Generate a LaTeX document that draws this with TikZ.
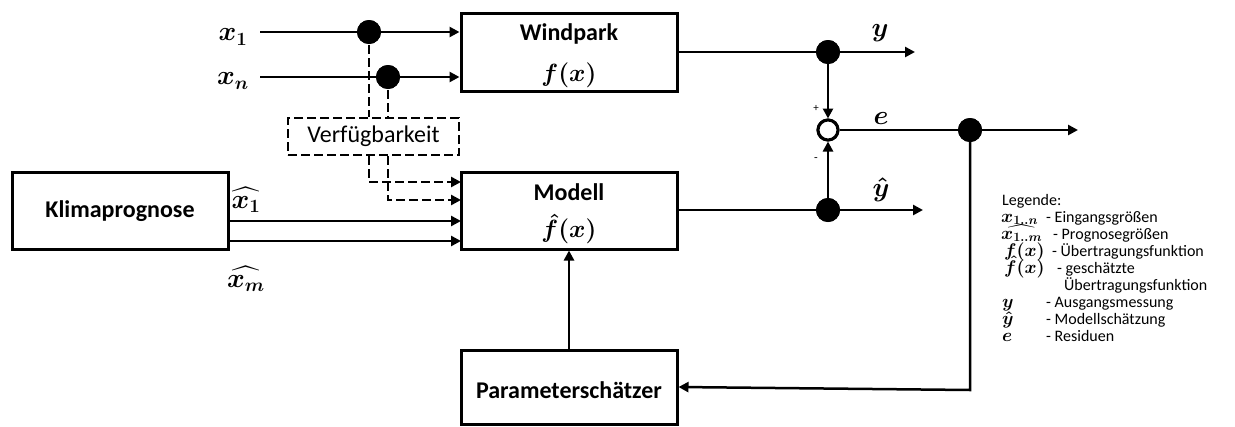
\RequirePackage{fix-cm}
\documentclass[tikz,border=0pt]{standalone}
\usepackage{amsmath}
\usepackage{bm}
\usepackage{graphicx}
\usepackage[no-math]{fontspec}
\setmainfont{Carlito}
\usetikzlibrary{arrows.meta}
\newcommand{\lblbig}[1]{\scalebox{1.3}{$#1$}}
\newcommand{\lblbox}[1]{\scalebox{1.2}{$#1$}}
\newcommand{\lblleg}[1]{\scalebox{1.06}{$#1$}}
\tikzset{
  blk/.style={draw, line width=3pt, fill=white, minimum width=216pt, inner sep=0pt},
  blktxt/.style={font=\fontsize{24}{28}\selectfont\bfseries, inner sep=0pt},
  bmath/.style={font=\fontsize{20.74}{24}\selectfont\boldmath, inner sep=0pt},
  mlab/.style={font=\fontsize{20.74}{24}\selectfont\boldmath, inner sep=0pt},
  conn/.style={line width=2.5pt, -{Triangle[length=10pt,width=10pt]}},
  plain/.style={line width=2.5pt},
  dsh/.style={line width=2.5pt, dash pattern=on 9pt off 4pt},
  dsharr/.style={dsh, -{Triangle[length=10pt,width=10pt]}},
  jdot/.style={circle, fill=black, inner sep=0pt, minimum size=24pt},
  legsym/.style={anchor=base west, inner sep=0pt, font=\fontsize{17.28}{18}\selectfont\boldmath},
  legtxt/.style={anchor=base west, inner sep=0pt, font=\fontsize{16}{17}\selectfont},
}
\begin{document}
\begin{tikzpicture}[x=1pt,y=-1pt]
\fill[white] (0,0) rectangle (1235,426);
\useasboundingbox (0,0) rectangle (1235,426);

% boxes
\node[blk, minimum height=78pt] (wp) at (569,52) {};
\node[blk, minimum height=77pt] (mod) at (569,210.5) {};
\node[blk, minimum height=77pt] (kp) at (120,210.5) {};
\node[blk, minimum height=74pt] (ps) at (569,387) {};

\node[blktxt] (wpt) at (569,34) {Windpark};
\node[bmath] (wpf) at (569,75) {\lblbox{f(x)}};
\node[blktxt] (modt) at (569,192) {Modell};
\node[bmath] (modf) at (569,229) {\lblbox{\hat{f}(x)}};
\node[blktxt] (kpt) at (120,211) {Klimaprognose};
\node[blktxt] (pst) at (569,390) {Parameterschätzer};

% coordinates
\coordinate (x1s) at (260,32);
\coordinate (xns) at (260,77);
\coordinate (yend) at (915,52);
\coordinate (yhend) at (923,210);
\coordinate (eend) at (1078,130);
\coordinate (fbk) at (970,390);
\coordinate (m1) at (461,182);
\coordinate (m2) at (461,200);
\coordinate (m3) at (461,221);
\coordinate (m4) at (461,241);

% junction dots (positions)
\node[jdot] (d1) at (369,32) {};
\node[jdot] (dn) at (388,77) {};
\node[jdot] (dy) at (828,52) {};
\node[jdot] (dyh) at (828,210) {};
\node[jdot] (de) at (970,130) {};
\node[circle, draw, line width=3pt, fill=white, inner sep=0pt, minimum size=20pt] (sum) at (828,130) {};

% Verfuegbarkeit box
\node[draw, dsh, fill=white, minimum width=171pt, minimum height=37pt, inner sep=0pt,
      font=\fontsize{24}{28}\selectfont] (vf) at (373.5,136.5) {Verfügbarkeit};

% input lines
\draw[conn] (x1s) -- (d1.center) -- (d1.center -| wp.west);
\draw[conn] (xns) -- (dn.center) -- (dn.center -| wp.west);

% dashed availability lines
\draw[dsh] (d1.center) -- (d1.center |- vf.north);
\draw[dsh] (dn.center) -- (dn.center |- vf.north);
\draw[dsharr] (d1.center |- vf.south) -- (d1.center |- m1) -- (m1);
\draw[dsharr] (dn.center |- vf.south) -- (dn.center |- m2) -- (m2);

% forecast lines
\draw[conn] (kp.east |- m3) -- (m3);
\draw[conn] (kp.east |- m4) -- (m4);

% outputs
\draw[plain] (wp.east |- dy) -- (dy.center);
\draw[conn] (dy.center) -- (yend);
\draw[conn] (dy.center) -- (sum.north);
\draw[plain] (mod.east |- dyh) -- (dyh.center);
\draw[conn] (dyh.center) -- (yhend);
\draw[conn] (dyh.center) -- (sum.south);
\draw[plain] (sum.east) -- (de.center);
\draw[conn] (de.center) -- (eend);
\draw[conn] (de.center) -- (fbk) -- (ps.east);
\draw[conn] (ps.north) -- (mod.south);

% redraw dots on top
\fill (d1) circle (12pt);
\fill (dn) circle (12pt);
\fill (dy) circle (12pt);
\fill (dyh) circle (12pt);
\fill (de) circle (12pt);
\draw[line width=3pt, fill=white] (sum) circle (10pt);

% labels
\node[mlab] (lx1) at (233,37) {\lblbig{x_1}};
\node[mlab] (lxn) at (233,81) {\lblbig{x_n}};
\node[mlab] (ly) at (880,33) {\lblbig{y}};
\node[mlab] (le) at (881,119) {\lblbig{e}};
\node[mlab] (lyh) at (881,190) {\lblbig{\hat{y}}};
\node[mlab] (lx1h) at (246,200) {\lblbig{\widehat{x_1}}};
\node[mlab] (lxmh) at (246,279) {\lblbig{\widehat{x_m}}};
\node[inner sep=0pt, font=\fontsize{11}{11}\selectfont] (plus) at (816,108) {+};
\node[inner sep=0pt, font=\fontsize{12}{12}\selectfont] (minus) at (816,160) {-};

% legend
\node[legtxt] (lg0) at (1002,205) {Legende:};
\node[legsym] (ls1) at (1001,222) {\lblleg{x_{1..n}}};
\node[legtxt] (lt1) at (1046,222) {- Eingangsgrößen};
\node[legsym] (ls2) at (1001,239) {\lblleg{\widehat{x_{1..m}}}};
\node[legtxt] (lt2) at (1053,239) {- Prognosegrößen};
\node[legsym] (ls3) at (1004,256) {\lblleg{f(x)}};
\node[legtxt] (lt3) at (1052,256) {- Übertragungsfunktion};
\node[legsym] (ls4) at (1004,273) {\lblleg{\hat{f}(x)}};
\node[legtxt] (lt4) at (1057,273) {- geschätzte};
\node[legtxt] (lt4b) at (1064,290) {Übertragungsfunktion};
\node[legsym] (ls5) at (1002,307) {\lblleg{y}};
\node[legtxt] (lt5) at (1046,307) {- Ausgangsmessung};
\node[legsym] (ls6) at (1002,324) {\lblleg{\hat{y}}};
\node[legtxt] (lt6) at (1046,324) {- Modellschätzung};
\node[legsym] (ls7) at (1002,341) {\lblleg{e}};
\node[legtxt] (lt7) at (1046,341) {- Residuen};
\end{tikzpicture}
\end{document}
